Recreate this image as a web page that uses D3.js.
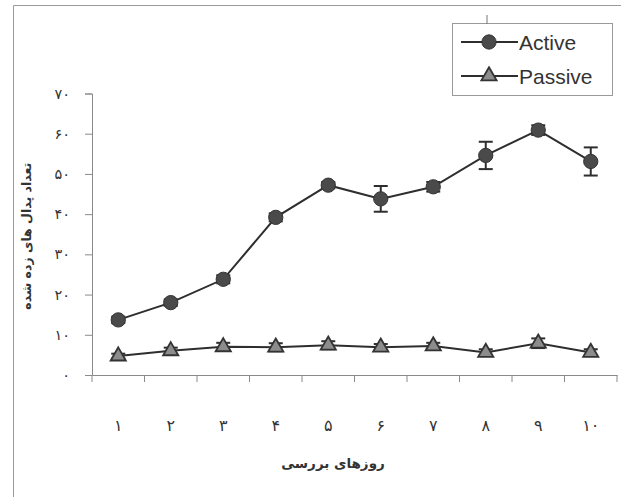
<!DOCTYPE html>
<html>
<head>
<meta charset="utf-8">
<script src="https://cdn.jsdelivr.net/npm/d3@7"></script>
<style>
  html, body { margin: 0; padding: 0; background: #fff; }
  svg { display: block; }
</style>
</head>
<body>
<svg id="chart" width="621" height="497"></svg>
<script>
// Days of observation and mean pedal counts (± error) for each group
const days = ["۱", "۲", "۳", "۴", "۵", "۶", "۷", "۸", "۹", "۱۰"];
const activeValues = [13.7, 18.0, 23.8, 39.2, 47.2, 43.8, 46.8, 54.6, 60.9, 53.1];
const activeErrors = [0.8, 0.8, 1.0, 1.0, 0.8, 3.2, 1.2, 3.4, 1.2, 3.5];
const passiveValues = [4.7, 6.0, 7.0, 6.9, 7.4, 6.9, 7.2, 5.6, 7.9, 5.6];
const passiveErrors = [0.6, 0.8, 1.0, 1.0, 1.0, 0.8, 0.8, 0.8, 1.2, 0.8];
const yTicks = [0, 10, 20, 30, 40, 50, 60, 70];
const yTickLabels = ["۰", "۱۰", "۲۰", "۳۰", "۴۰", "۵۰", "۶۰", "۷۰"];
const seriesNames = ["Active", "Passive"];
const yTitle = "تعداد پدال های زده شده";
const xTitle = "روزهای بررسی";

const svg = d3.select("#chart");
const faFont = "'DejaVu Sans', sans-serif";
const ink = "#2e2e2e";
const axisGray = "#8a8a8a";

// Outer frame (top and left edges)
svg.append("path")
  .attr("d", "M13.5,497 L13.5,5.5 L621,5.5")
  .attr("fill", "none").attr("stroke", "#9a9a9a").attr("stroke-width", 1);

const plot = { left: 92, right: 617, top: 93.5, bottom: 375 };

const x = d3.scaleBand().domain(days).range([plot.left, plot.right]).padding(0);
const y = d3.scaleLinear().domain([0, 70]).range([plot.bottom, plot.top]);
const cx = d => x(d) + x.bandwidth() / 2;

// Y axis
const yAxis = d3.axisLeft(y)
  .tickValues(yTicks)
  .tickFormat((d, i) => yTickLabels[i])
  .tickSize(7)
  .tickPadding(15);
const gy = svg.append("g").attr("transform", `translate(${plot.left},0)`).call(yAxis);
gy.select(".domain").attr("stroke", axisGray);
gy.selectAll(".tick line").attr("stroke", axisGray);
gy.selectAll(".tick text")
  .attr("font-family", faFont).attr("font-size", 14.5).attr("fill", "#333");

// X axis: labels centred in bands, tick marks on band edges
const xAxis = d3.axisBottom(x).tickSize(0).tickPadding(45);
const gx = svg.append("g").attr("transform", `translate(0,${plot.bottom})`).call(xAxis);
gx.select(".domain").attr("stroke", axisGray);
gx.selectAll(".tick text")
  .attr("font-family", faFont).attr("font-size", 16).attr("fill", "#333");
const edges = days.map(d => x(d)).concat([plot.right]);
gx.selectAll(".edge").data(edges).join("line")
  .attr("class", "edge")
  .attr("x1", d => d).attr("x2", d => d)
  .attr("y1", 0).attr("y2", 7)
  .attr("stroke", axisGray);

// Axis titles
svg.append("text")
  .attr("transform", `translate(31,${(plot.top + plot.bottom) / 2 + 2}) rotate(-90)`)
  .attr("text-anchor", "middle")
  .attr("font-family", faFont).attr("font-size", 12.5).attr("font-weight", "bold")
  .attr("fill", "#333")
  .text(yTitle);
svg.append("text")
  .attr("x", 333).attr("y", 468)
  .attr("text-anchor", "middle")
  .attr("font-family", faFont).attr("font-size", 13.5).attr("font-weight", "bold")
  .attr("fill", "#333")
  .text(xTitle);

// Series drawing
function drawSeries(values, errors, marker) {
  const pts = days.map((d, i) => ({ d, v: values[i], e: errors[i] }));
  const g = svg.append("g");
  g.append("path")
    .datum(pts)
    .attr("fill", "none").attr("stroke", ink).attr("stroke-width", 2)
    .attr("d", d3.line().x(p => cx(p.d)).y(p => y(p.v)));
  const eb = g.selectAll(".eb").data(pts).join("g").attr("class", "eb");
  eb.append("line")
    .attr("x1", p => cx(p.d)).attr("x2", p => cx(p.d))
    .attr("y1", p => y(p.v - p.e)).attr("y2", p => y(p.v + p.e))
    .attr("stroke", ink).attr("stroke-width", 2);
  [-1, 1].forEach(s => {
    eb.append("line")
      .attr("x1", p => cx(p.d) - 7).attr("x2", p => cx(p.d) + 7)
      .attr("y1", p => y(p.v + s * p.e)).attr("y2", p => y(p.v + s * p.e))
      .attr("stroke", ink).attr("stroke-width", 2);
  });
  g.selectAll(".mk").data(pts).join("path")
    .attr("class", "mk")
    .attr("transform", p => `translate(${cx(p.d)},${y(p.v)})`)
    .call(marker);
}

const circleMarker = sel => sel
  .attr("d", d3.symbol(d3.symbolCircle, 160)())
  .attr("fill", "#4a4a4a").attr("stroke", "#333").attr("stroke-width", 1);
const triangleMarker = sel => sel
  .attr("d", d3.symbol(d3.symbolTriangle, 100)())
  .attr("fill", "#8c8c8c").attr("stroke", "#333").attr("stroke-width", 1.8);

drawSeries(passiveValues, passiveErrors, triangleMarker);
drawSeries(activeValues, activeErrors, circleMarker);

// Legend
const legend = svg.append("g");
legend.append("rect")
  .attr("x", 452.5).attr("y", 23.5).attr("width", 160).attr("height", 72)
  .attr("fill", "#fff").attr("stroke", "#9a9a9a").attr("stroke-width", 1);
legend.append("line")
  .attr("x1", 487).attr("x2", 487).attr("y1", 15).attr("y2", 24)
  .attr("stroke", "#777").attr("stroke-width", 1);
const rows = [
  { name: seriesNames[0], y: 42, marker: circleMarker },
  { name: seriesNames[1], y: 76, marker: triangleMarker }
];
rows.forEach(r => {
  legend.append("line")
    .attr("x1", 461).attr("x2", 518).attr("y1", r.y).attr("y2", r.y)
    .attr("stroke", ink).attr("stroke-width", 2);
  legend.append("path")
    .attr("transform", `translate(489,${r.y})`)
    .call(r.marker);
  legend.append("text")
    .attr("x", 519).attr("y", r.y + 7.5)
    .attr("font-family", "'Liberation Sans', Arial, sans-serif")
    .attr("font-size", 21).attr("fill", "#333")
    .text(r.name);
});
</script>
</body>
</html>
